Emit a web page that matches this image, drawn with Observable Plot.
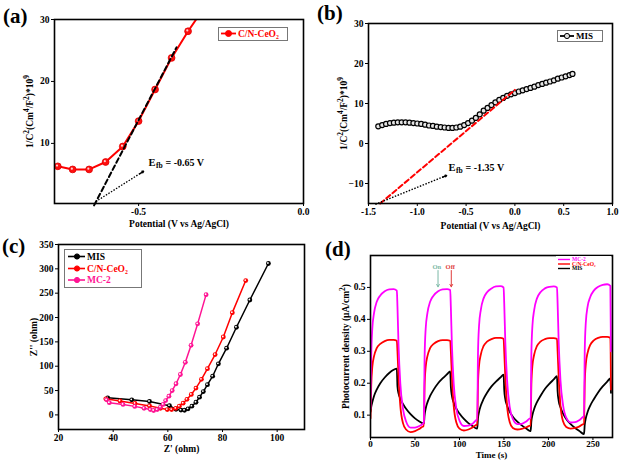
<!DOCTYPE html>
<html><head><meta charset="utf-8">
<script src="https://cdn.jsdelivr.net/npm/d3@7"></script>
<script src="https://cdn.jsdelivr.net/npm/@observablehq/plot@0.6"></script>
<style>
body{margin:0;background:#fff;}
#root{position:relative;width:620px;height:460px;overflow:hidden;background:#fff;}
.panel{position:absolute;}
.tag{position:absolute;font:bold 21px "Liberation Serif",serif;line-height:1;color:#000;}
.legend{position:absolute;box-sizing:border-box;background:#fff;}
</style></head><body><div id="root"></div>
<script>
// ---------- (a) Mott-Schottky C/N-CeO2 ----------
const aPotential = [-0.745, -0.70, -0.65, -0.60, -0.548, -0.50, -0.45, -0.40, -0.35, -0.30];
const aInvC2 = [6.3, 5.8, 5.8, 7.0, 9.5, 13.6, 18.7, 23.8, 28.1, 32.0];
const aFitX = [-0.635, -0.385];
const aFitY = [0, 25.5];
const aArrowX = [-0.63, -0.485];
const aArrowY = [0.6, 5.5];
const aEfb = "-0.65 V";

// ---------- (b) Mott-Schottky MIS ----------
const bPotential = [-1.40,-1.36,-1.32,-1.28,-1.24,-1.20,-1.16,-1.12,-1.08,-1.04,-1.00,-0.96,-0.92,-0.88,-0.84,-0.80,-0.76,-0.72,-0.68,-0.64,-0.60,-0.56,-0.52,-0.48,-0.44,-0.40,-0.36,-0.32,-0.28,-0.24,-0.20,-0.16,-0.12,-0.08,-0.04,0.00,0.04,0.08,0.12,0.16,0.20,0.24,0.28,0.32,0.36,0.40,0.44,0.48,0.52,0.56,0.59];
const bInvC2 = [4.3,4.6,4.9,5.1,5.2,5.3,5.3,5.3,5.2,5.1,5.0,4.9,4.7,4.5,4.4,4.2,4.1,4.0,3.9,3.9,4.0,4.2,4.6,5.1,5.7,6.4,7.3,8.2,8.9,9.6,10.3,10.9,11.4,11.9,12.3,12.6,13.0,13.3,13.6,13.9,14.2,14.6,14.9,15.2,15.5,15.8,16.2,16.5,16.8,17.1,17.4];
const bFitX = [-1.38, 0.0];
const bFitY = [-15, 13.4];
const bArrowX = [-1.43, -0.70];
const bArrowY = [-15.2, -8.0];
const bEfb = "-1.35 V";

// ---------- (c) Nyquist ----------
const cMISx = [38.0,46.8,53.3,60.6,63.0,64.8,66.1,67.4,68.8,70.3,71.6,73.0,74.5,76.4,78.5,81.5,85.1,90.0,96.8];
const cMISy = [35,31,27.5,19,11.5,10,9.5,12.5,18,26,36.5,48,62,79.5,105,137,180,236,311];
const cCeO2x = [37.3,42.5,48.0,53.3,57.3,59.8,61.4,62.9,64.2,65.6,67.0,68.6,70.3,72.3,74.5,77.3,80.3,83.6,88.5];
const cCeO2y = [33,28.5,23.5,18.5,13.5,11,11,13.5,18,24,32,42,55,73,95,124,160,210,276];
const cMC2x = [37.6,38.6,43.6,47.9,51.3,53.6,54.8,56.1,57.3,58.3,59.2,60.4,61.6,63.0,64.6,66.4,68.5,70.9,74.0];
const cMC2y = [31,25,21.5,17.5,13.5,11,9,11,16,21.5,29.5,38.5,50,64,83,108,143,187,247];

// ---------- (d) Photocurrent ----------
const dOffsets = [0,0.8,2,4,7,11,16,21,26,29.6,30.3,31.5,33.5,36.5,40,45,50,55,59.6];
const dCycleStarts = [0,60,120,180,240];
const dMC2 = [
  [0.12,0.28,0.37,0.42,0.455,0.475,0.488,0.494,0.495,0.49,0.44,0.32,0.20,0.12,0.08,0.061,0.061,0.066,0.075],
  [0.078,0.28,0.37,0.42,0.455,0.475,0.488,0.494,0.495,0.492,0.44,0.32,0.20,0.12,0.083,0.066,0.067,0.074,0.085],
  [0.085,0.29,0.38,0.43,0.465,0.485,0.497,0.503,0.504,0.50,0.45,0.33,0.21,0.125,0.088,0.072,0.073,0.08,0.09],
  [0.09,0.29,0.38,0.43,0.465,0.485,0.497,0.502,0.503,0.50,0.45,0.33,0.21,0.13,0.092,0.077,0.078,0.085,0.095],
  [0.095,0.30,0.39,0.44,0.47,0.49,0.502,0.508,0.51,0.505,0.30]
];
const dCeO2 = [
  [0.09,0.19,0.25,0.285,0.31,0.323,0.332,0.336,0.336,0.333,0.30,0.22,0.13,0.075,0.055,0.047,0.05,0.057,0.065],
  [0.065,0.19,0.25,0.285,0.31,0.323,0.332,0.335,0.335,0.333,0.30,0.22,0.13,0.077,0.058,0.052,0.055,0.062,0.07],
  [0.07,0.195,0.255,0.29,0.316,0.33,0.338,0.342,0.342,0.339,0.30,0.22,0.13,0.078,0.06,0.055,0.057,0.062,0.067],
  [0.067,0.195,0.255,0.29,0.316,0.33,0.338,0.341,0.341,0.339,0.30,0.22,0.13,0.08,0.063,0.058,0.06,0.065,0.072],
  [0.072,0.2,0.26,0.295,0.32,0.334,0.342,0.345,0.345,0.342,0.18]
];
const dMIS = [
  [0.11,0.125,0.14,0.16,0.18,0.2,0.218,0.232,0.242,0.246,0.19,0.168,0.152,0.135,0.12,0.103,0.09,0.08,0.074],
  [0.074,0.1,0.12,0.14,0.16,0.18,0.2,0.215,0.228,0.237,0.19,0.16,0.14,0.12,0.105,0.088,0.075,0.065,0.058],
  [0.058,0.09,0.11,0.13,0.15,0.17,0.19,0.205,0.218,0.227,0.18,0.15,0.13,0.11,0.095,0.08,0.068,0.058,0.05],
  [0.05,0.08,0.1,0.12,0.14,0.16,0.182,0.198,0.212,0.222,0.175,0.145,0.125,0.105,0.088,0.072,0.06,0.05,0.041],
  [0.041,0.07,0.09,0.11,0.13,0.15,0.172,0.19,0.205,0.215,0.17]
];

const names = ["MIS", "C/N-CeO₂", "MC-2"];

// ---------- helpers ----------
const root = document.getElementById("root");
const NS = "http://www.w3.org/2000/svg";
const FONT = '"Liberation Serif", "Times New Roman", serif';
const baseStyle = {fontFamily: FONT, fontSize: "9.5px", fontWeight: "bold", color: "#000", background: "transparent", overflow: "visible"};
const zip = (xs, ys) => xs.map((x, i) => ({x, y: ys[i]}));
const SUP = {"²": "2", "⁴": "4", "⁹": "9"};
function richLabels(svg) {
  svg.querySelectorAll("text").forEach(t => {
    if (t.querySelector("tspan")) return;
    const s = t.textContent;
    if (!/[²⁴⁹]/.test(s)) return;
    const parts = s.split(/([²⁴⁹])/);
    while (t.firstChild) t.removeChild(t.firstChild);
    parts.forEach(p => {
      if (!p) return;
      const ts = document.createElementNS(NS, "tspan");
      if (SUP[p]) {
        ts.textContent = SUP[p];
        ts.setAttribute("baseline-shift", "super");
        ts.setAttribute("font-size", "78%");
      } else ts.textContent = p;
      t.appendChild(ts);
    });
  });
}
function place(node, left, top) {
  node.classList.add("panel");
  node.style.left = left + "px";
  node.style.top = top + "px";
  richLabels(node);
  root.appendChild(node);
}
function tag(text, left, top) {
  const d = document.createElement("div");
  d.className = "tag"; d.textContent = text;
  d.style.left = left + "px"; d.style.top = top + "px";
  root.appendChild(d);
}
function efbMarks(x, y, value) {
  const d = [{x, y}];
  return [
    Plot.text(d, {x: "x", y: "y", text: () => "E", textAnchor: "start", fontSize: 10.5}),
    Plot.text(d, {x: "x", y: "y", text: () => "fb", textAnchor: "start", fontSize: 7.5, dx: 7.5, dy: 3}),
    Plot.text(d, {x: "x", y: "y", text: () => "= " + value, textAnchor: "start", fontSize: 10, dx: 17})
  ];
}
function legend(o) {
  const div = document.createElement("div");
  div.className = "legend";
  div.style.left = o.left + "px"; div.style.top = o.top + "px";
  div.style.width = o.width + "px"; div.style.height = o.height + "px";
  if (o.border) div.style.border = "1px solid #777";
  const svg = document.createElementNS(NS, "svg");
  svg.setAttribute("width", o.width); svg.setAttribute("height", o.height);
  svg.style.position = "absolute"; svg.style.left = (o.border ? -1 : 0) + "px"; svg.style.top = (o.border ? -1 : 0) + "px";
  o.items.forEach((it, i) => {
    const y = o.rowY[i];
    const l = document.createElementNS(NS, "line");
    l.setAttribute("x1", o.x1); l.setAttribute("x2", o.x2); l.setAttribute("y1", y); l.setAttribute("y2", y);
    l.setAttribute("stroke", it.color); l.setAttribute("stroke-width", o.sw);
    svg.appendChild(l);
    if (o.r) {
      const c = document.createElementNS(NS, "circle");
      c.setAttribute("cx", o.mx); c.setAttribute("cy", y); c.setAttribute("r", o.r);
      c.setAttribute("fill", it.fill || it.color); c.setAttribute("stroke", it.color); c.setAttribute("stroke-width", 1);
      svg.appendChild(c);
    }
    const t = document.createElementNS(NS, "text");
    t.setAttribute("x", o.tx); t.setAttribute("y", y); t.setAttribute("dy", "0.35em");
    t.setAttribute("fill", it.textColor || it.color);
    t.setAttribute("font-family", FONT); t.setAttribute("font-weight", "bold"); t.setAttribute("font-size", o.fs);
    t.textContent = it.label;
    svg.appendChild(t);
  });
  div.appendChild(svg);
  root.appendChild(div);
}

// ---------- (a) ----------
const A = zip(aPotential, aInvC2);
place(Plot.plot({
  width: 310, height: 230, marginLeft: 54, marginRight: 7, marginTop: 19, marginBottom: 27,
  style: baseStyle,
  x: {domain: [-0.755, 0]},
  y: {domain: [0.3, 30]},
  marks: [
    Plot.axisX({ticks: [-0.5, 0], tickFormat: d => d.toFixed(1), tickSize: 3, tickPadding: 2, label: "Potential (V vs Ag/AgCl)", labelAnchor: "center", labelArrow: "none", labelOffset: 23}),
    Plot.axisY({ticks: [10, 20, 30], tickSize: 3, tickPadding: 2, label: "1/C²(Cm⁴/F²)*10⁹", labelAnchor: "center", labelArrow: "none", labelOffset: 28}),
    Plot.line(A, {x: "x", y: "y", stroke: "#ff0000", strokeWidth: 2, clip: true}),
    Plot.dot(A, {x: "x", y: "y", r: 3.4, fill: "#ff1010", stroke: "#e00000", strokeWidth: 0.8, clip: true}),
    Plot.dot(A, {x: "x", y: "y", r: 1.1, fill: "#ffd0d0", dx: -0.8, dy: -0.8, clip: true}),
    Plot.line(zip(aFitX, aFitY), {x: "x", y: "y", stroke: "#000", strokeWidth: 2, strokeDasharray: "5,3"}),
    Plot.link([0], {x1: () => aArrowX[0], y1: () => aArrowY[0], x2: () => aArrowX[1], y2: () => aArrowY[1], stroke: "#000", strokeWidth: 1.3, strokeDasharray: "1.5,1.5"}),
    Plot.arrow([0], {x1: () => aArrowX[1] - 0.012, y1: () => aArrowY[1] - 0.4, x2: () => aArrowX[1], y2: () => aArrowY[1], stroke: "#000", strokeWidth: 1.5, headLength: 7}),
    ...efbMarks(-0.47, 6.9, aEfb),
    Plot.frame({stroke: "#000", strokeWidth: 1.6})
  ]
}), 0, 0);
tag("(a)", 3, 6);
legend({left: 218, top: 27, width: 70, height: 14, border: true, rowY: [6.5], x1: 3, x2: 18, mx: 10.5, r: 3, tx: 20, fs: 9.5, sw: 1.8,
  items: [{label: names[1], color: "#ff0000"}]});

// ---------- (b) ----------
const B = zip(bPotential, bInvC2);
place(Plot.plot({
  width: 310, height: 230, marginLeft: 58, marginRight: 8, marginTop: 23, marginBottom: 27,
  style: baseStyle,
  x: {domain: [-1.5, 1.0]},
  y: {domain: [-15, 30]},
  marks: [
    Plot.axisX({ticks: [-1.5, -1.0, -0.5, 0, 0.5, 1.0], tickFormat: d => d.toFixed(1), tickSize: 3, tickPadding: 2, label: "Potential (V vs Ag/AgCl)", labelAnchor: "center", labelArrow: "none", labelOffset: 25}),
    Plot.axisY({ticks: [-10, 0, 10, 20, 30], tickSize: 3, tickPadding: 2, label: "1/C²(Cm⁴/F²)*10⁹", labelAnchor: "center", labelArrow: "none", labelOffset: 28}),
    Plot.line(B, {x: "x", y: "y", stroke: "#000", strokeWidth: 1.5}),
    Plot.dot(B, {x: "x", y: "y", r: 2.5, fill: "#e6e6e6", stroke: "#000", strokeWidth: 1.2}),
    Plot.line(zip(bFitX, bFitY), {x: "x", y: "y", stroke: "#ff0000", strokeWidth: 2, strokeDasharray: "5,3"}),
    Plot.link([0], {x1: () => bArrowX[0], y1: () => bArrowY[0], x2: () => bArrowX[1], y2: () => bArrowY[1], stroke: "#000", strokeWidth: 1.4, strokeDasharray: "1.5,1.5"}),
    Plot.arrow([0], {x1: () => bArrowX[1] - 0.04, y1: () => bArrowY[1] - 0.4, x2: () => bArrowX[1], y2: () => bArrowY[1], stroke: "#000", strokeWidth: 1.5, headLength: 7}),
    ...efbMarks(-0.68, -6.0, bEfb),
    Plot.frame({stroke: "#000", strokeWidth: 1.6})
  ]
}), 310, 0);
tag("(b)", 317, 3);
legend({left: 557, top: 30, width: 46, height: 12, border: true, rowY: [6], x1: 3, x2: 17, mx: 10, r: 2.6, tx: 19, fs: 9, sw: 1.8,
  items: [{label: names[0], color: "#000", fill: "#ddd"}]});

// ---------- (c) ----------
const cColors = ["#000000", "#ff0000", "#ff1493"];
const cSeries = [zip(cMISx, cMISy), zip(cCeO2x, cCeO2y), zip(cMC2x, cMC2y)];
const cMarks = [];
cSeries.forEach((s, i) => {
  cMarks.push(Plot.line(s, {x: "x", y: "y", stroke: cColors[i], strokeWidth: 1.5}));
  cMarks.push(Plot.dot(s, {x: "x", y: "y", r: 2.4, fill: cColors[i]}));
  cMarks.push(Plot.dot(s, {x: "x", y: "y", r: 0.9, fill: "#fff", dx: -0.5, dy: -0.5}));
});
place(Plot.plot({
  width: 310, height: 230, marginLeft: 58, marginRight: 6, marginTop: 14, marginBottom: 31,
  style: baseStyle,
  x: {domain: [20, 110]},
  y: {domain: [-30, 350]},
  marks: [
    Plot.axisX({ticks: [20, 40, 60, 80, 100], tickSize: 3, tickPadding: 2, label: "Z' (ohm)", labelAnchor: "center", labelArrow: "none", labelOffset: 22}),
    Plot.axisY({ticks: [0, 50, 100, 150, 200, 250, 300, 350], tickSize: 3, tickPadding: 2, label: "Z'' (ohm)", labelAnchor: "center", labelArrow: "none", labelOffset: 28}),
    ...cMarks,
    Plot.frame({stroke: "#000", strokeWidth: 1.6})
  ]
}), 0, 230);
tag("(c)", 2, 236);
legend({left: 64, top: 249, width: 78, height: 39, border: true, rowY: [7.5, 19.5, 31], x1: 4, x2: 21, mx: 13, r: 2.6, tx: 23, fs: 9.5, sw: 1.6,
  items: [{label: names[0], color: cColors[0]}, {label: names[1], color: cColors[1]}, {label: names[2], color: cColors[2]}]});

// ---------- (d) ----------
function cycles(vals) {
  const out = [];
  vals.forEach((cyc, c) => cyc.forEach((v, i) => out.push({x: dCycleStarts[c] + dOffsets[i], y: v})));
  return out;
}
const dColors = ["#000000", "#ff0000", "#ff00ff"];
const dSeries = [cycles(dMIS), cycles(dCeO2), cycles(dMC2)];
place(Plot.plot({
  width: 310, height: 230, marginLeft: 60, marginRight: 8, marginTop: 25, marginBottom: 23,
  style: baseStyle,
  x: {domain: [0, 272]},
  y: {domain: [0.03, 0.6]},
  marks: [
    Plot.axisX({ticks: [0, 50, 100, 150, 200, 250], tickSize: 3, tickPadding: 0, fontSize: 9, label: "Time (s)", labelAnchor: "center", labelArrow: "none", labelOffset: 20}),
    Plot.axisY({ticks: [0.1, 0.2, 0.3, 0.4, 0.5], tickFormat: d => d.toFixed(1), tickSize: 3, tickPadding: 2, label: "Photocurrent density (μA/cm²)", labelAnchor: "center", labelArrow: "none", labelOffset: 28}),
    ...dSeries.map((s, i) => Plot.line(s, {x: "x", y: "y", stroke: dColors[i], strokeWidth: 1.8, curve: "monotone-x", clip: true})),
    Plot.text([{x: 74.6, y: 0.564}], {x: "x", y: "y", text: () => "On", fill: "#7ab8a6", fontSize: 6.5}),
    Plot.arrow([{x: 75.9}], {x1: "x", x2: "x", y1: () => 0.553, y2: () => 0.502, stroke: "#7ab8a6", strokeWidth: 1, headLength: 4}),
    Plot.text([{x: 89.7, y: 0.564}], {x: "x", y: "y", text: () => "Off", fill: "#e03c3c", fontSize: 6.5}),
    Plot.arrow([{x: 90.8}], {x1: "x", x2: "x", y1: () => 0.553, y2: () => 0.502, stroke: "#e03c3c", strokeWidth: 1, headLength: 4}),
    Plot.frame({stroke: "#000", strokeWidth: 1.6})
  ]
}), 310, 230);
tag("(d)", 325, 239);
legend({left: 556, top: 256, width: 55, height: 16, border: false, rowY: [3.5, 8, 12.5], x1: 2, x2: 14, tx: 16, fs: 5.5, sw: 1.4,
  items: [{label: names[2], color: dColors[2]}, {label: names[1], color: dColors[1]}, {label: names[0], color: dColors[0]}]});
</script></body></html>
